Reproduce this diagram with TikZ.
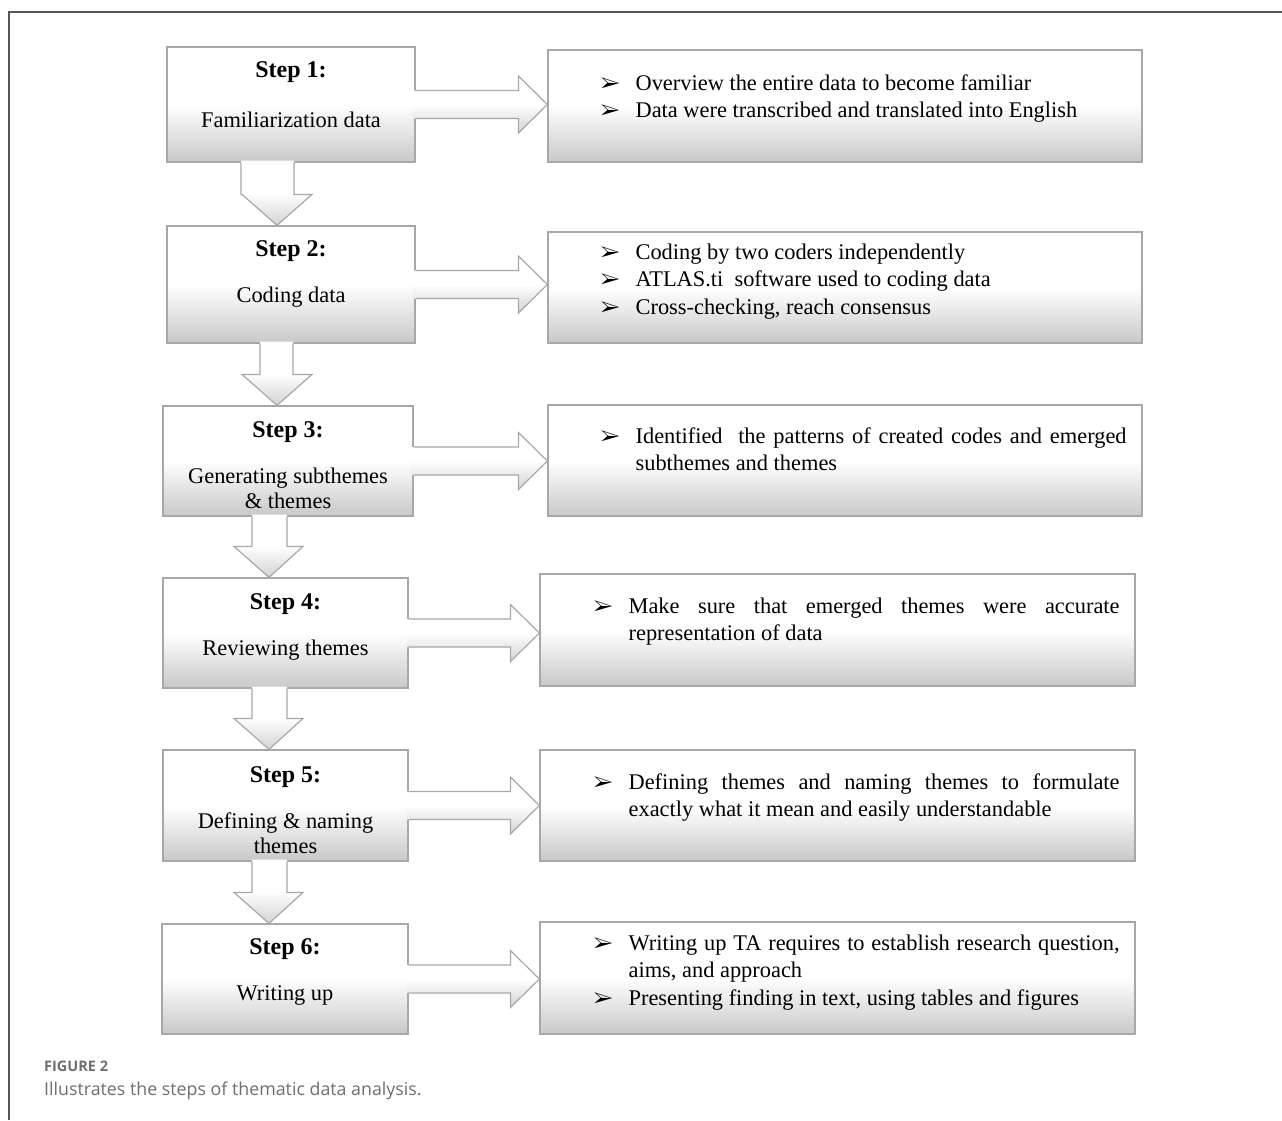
\documentclass[tikz,border=0pt]{standalone}
\usepackage{fontspec}
\usepackage{pifont}
\setmainfont{Liberation Serif}
\newfontfamily\capfont{Open Sans}
\usetikzlibrary{calc}
\definecolor{boxline}{HTML}{A8A8A8}
\definecolor{boxshade}{HTML}{C8C8C8}
\definecolor{capgray}{HTML}{6E6E6E}
\definecolor{framegray}{HTML}{555555}
\tikzset{
  stepbox/.style={draw=boxline, line width=1.2pt, top color=white, bottom color=boxshade, middle color=white, inner sep=0pt},
  steptext/.style={align=center, inner sep=0pt, font=\fontsize{22.4}{25}\selectfont},
  itemtext/.style={text width=526pt, align=justify, inner sep=0pt, font=\fontsize{22.4}{27.5}\selectfont},
  arrowfill/.style={top color=white, bottom color=boxshade!80, middle color=white},
  arrowline/.style={draw=boxline, line width=1.2pt, line join=miter},
  capfig/.style={inner sep=0pt, text=capgray, font=\capfont\bfseries\fontsize{14.5}{17}\selectfont},
  captext/.style={inner sep=0pt, text=capgray, font=\capfont\fontsize{17.8}{20}\selectfont},
}
\newcommand{\hd}{\fontsize{24}{28}\selectfont\bfseries}
\newcommand{\bul}{{\fontsize{21}{21}\selectfont\ding{226}}}
\newcommand{\itm}[1]{\noindent\hangindent=35pt\hangafter=1\makebox[35pt][l]{\bul}#1\par}
% right block arrow: from left box to right box
\newcommand{\rarr}[2]{%
  \coordinate (tip) at (#1.east -| #2.west);
  \path[arrowfill] ($(#1.east)+(-2,-14)$) -- ($(tip)+(-29,-14)$) -- ($(tip)+(-29,-28.5)$) -- (tip)
    -- ($(tip)+(-29,28.5)$) -- ($(tip)+(-29,14)$) -- ($(#1.east)+(-2,14)$) -- cycle;
  \draw[arrowline] ($(#1.east)+(0,-14)$) -- ($(tip)+(-29,-14)$) -- ($(tip)+(-29,-28.5)$) -- (tip)
    -- ($(tip)+(-29,28.5)$) -- ($(tip)+(-29,14)$) -- ($(#1.east)+(0,14)$);
}
% down block arrow: from, to, shaft left, shaft right, head left, head right, tip
\newcommand{\darr}[7]{%
  \coordinate (base) at (#2.north -| #1.south);
  \path[arrowfill] ($(#1.south)+(#3,-2)$) -- ($(base)+(#3,-31)$) -- ($(base)+(#5,-31)$) -- ($(base)+(#7,0)$)
    -- ($(base)+(#6,-31)$) -- ($(base)+(#4,-31)$) -- ($(#1.south)+(#4,-2)$) -- cycle;
  \draw[arrowline] ($(#1.south)+(#3,0)$) -- ($(base)+(#3,-31)$) -- ($(base)+(#5,-31)$) -- ($(base)+(#7,0)$)
    -- ($(base)+(#6,-31)$) -- ($(base)+(#4,-31)$) -- ($(#1.south)+(#4,0)$);
}

\begin{document}
\begin{tikzpicture}[x=1pt, y=-1pt]
    \useasboundingbox (0,0) rectangle (1282,1120);
    %Frame
    \draw[framegray, line width=1.6pt] (9,1120) -- (9,12) -- (1282,12);
    %Steps
    \node[stepbox, minimum width=248, minimum height=115] (s1) at (291,104.5) {};
    \node[stepbox, minimum width=248, minimum height=117] (s2) at (291,284.5) {};
    \node[stepbox, minimum width=250, minimum height=110] (s3) at (288,461) {};
    \node[stepbox, minimum width=245, minimum height=110] (s4) at (285.5,633) {};
    \node[stepbox, minimum width=245, minimum height=111] (s5) at (285.5,805.5) {};
    \node[stepbox, minimum width=246, minimum height=110] (s6) at (285,979) {};
    %Details
    \node[stepbox, minimum width=594, minimum height=112] (d1) at (845,106) {};
    \node[stepbox, minimum width=594, minimum height=111] (d2) at (845,287.5) {};
    \node[stepbox, minimum width=594, minimum height=111] (d3) at (845,460.5) {};
    \node[stepbox, minimum width=595, minimum height=112] (d4) at (837.5,630) {};
    \node[stepbox, minimum width=595, minimum height=111] (d5) at (837.5,805.5) {};
    \node[stepbox, minimum width=595, minimum height=112] (d6) at (837.5,978) {};
    %Arrows
    \rarr{s1}{d1} \rarr{s2}{d2} \rarr{s3}{d3}
    \rarr{s4}{d4} \rarr{s5}{d5} \rarr{s6}{d6}
    \darr{s1}{s2}{-50}{3}{-49}{21}{-14}
    \darr{s2}{s3}{-31}{2}{-49}{21}{-14}
    \darr{s3}{s4}{-36}{-1}{-54}{15}{-19}
    \darr{s4}{s5}{-33.5}{1.5}{-51.5}{17.5}{-16.5}
    \darr{s5}{s6}{-33.5}{1.5}{-51.5}{17.5}{-16.5}
    %Step labels (base = last line)
    \node[steptext, anchor=base] (s1t) at ($(s1.north)+(0,81)$) {{\hd Step 1:}\\[25pt]Familiarization data};
    \node[steptext, anchor=base] (s2t) at ($(s2.north)+(0,77)$) {{\hd Step 2:}\\[21pt]Coding data};
    \node[steptext, anchor=base] (s3t) at ($(s3.north)+(0,103)$) {{\hd Step 3:}\\[21pt]Generating subthemes\\\& themes};
    \node[steptext, anchor=base] (s4t) at ($(s4.north)+(0,78)$) {{\hd Step 4:}\\[21pt]Reviewing themes};
    \node[steptext, anchor=base] (s5t) at ($(s5.north)+(0,104)$) {{\hd Step 5:}\\[21pt]Defining \& naming\\themes};
    \node[steptext, anchor=base] (s6t) at ($(s6.north)+(0,77)$) {{\hd Step 6:}\\[21pt]Writing up};
    %Detail texts
    \node[itemtext, anchor=base west] (d1t) at ($(d1.north west)+(53,41)$) {%
      \itm{Overview the entire data to become familiar}
      \itm{Data were transcribed and translated into English}};
    \node[itemtext, anchor=base west] (d2t) at ($(d2.north west)+(53,28)$) {%
      \itm{Coding by two coders independently}
      \itm{ATLAS.ti\ \ software used to coding data}
      \itm{Cross-checking, reach consensus}};
    \node[itemtext, anchor=base west] (d3t) at ($(d3.north west)+(53,39)$) {%
      \itm{Identified\ \ the patterns of created codes and emerged\linebreak subthemes and themes}};
    \node[itemtext, anchor=base west] (d4t) at ($(d4.north west)+(54,40)$) {%
      \itm{Make sure that emerged themes were accurate\linebreak representation of data}};
    \node[itemtext, anchor=base west] (d5t) at ($(d5.north west)+(54,40)$) {%
      \itm{Defining themes and naming themes to formulate\linebreak exactly what it mean and easily understandable}};
    \node[itemtext, anchor=base west] (d6t) at ($(d6.north west)+(54,29)$) {%
      \itm{Writing up TA requires to establish research question,\linebreak aims, and approach}
      \itm{Presenting finding in text, using tables and figures}};
    %Caption
    \node[capfig, anchor=base west] (cap1) at (44,1071) {FIGURE 2};
    \node[captext, anchor=base west] (cap2) at (44,1095) {Illustrates the steps of thematic data analysis.};
\end{tikzpicture}
\end{document}
